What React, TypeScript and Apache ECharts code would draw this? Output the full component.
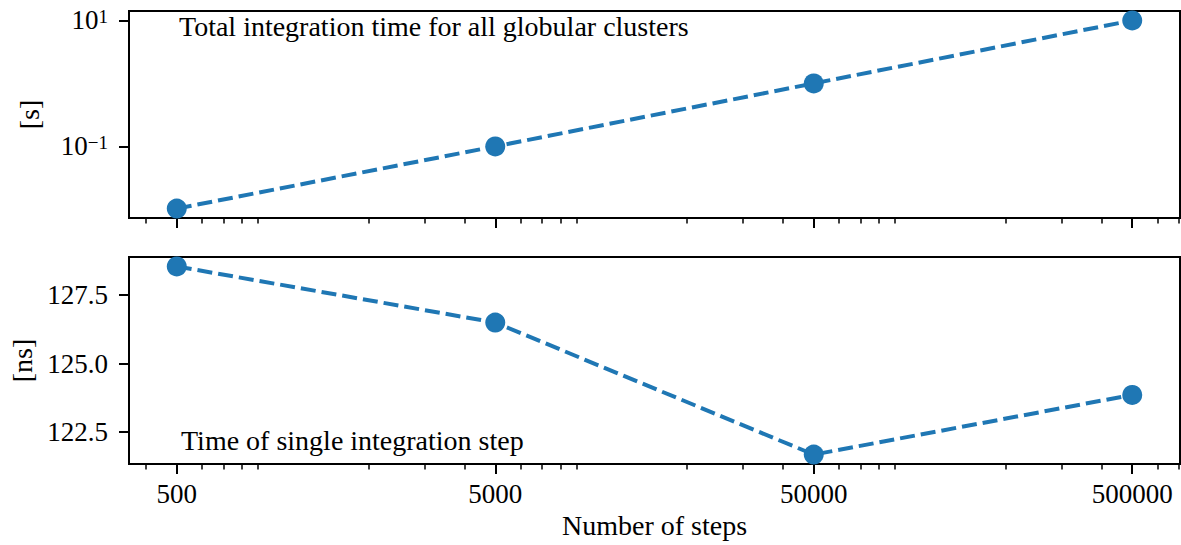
import React, { useEffect, useRef } from 'react';
import * as echarts from 'echarts';

// ---- data ----
const steps = [500, 5000, 50000, 500000];
const xTickLabels = ['500', '5000', '50000', '500000'];
const totalTimeS = [0.0103, 0.1, 1.0, 10.0];
const stepTimeNs = [128.55, 126.5, 121.68, 123.86];
const topYTickExponents = [-1, 1];
const bottomYTicks = [122.5, 125.0, 127.5];
const topText = 'Total integration time for all globular clusters';
const bottomText = 'Time of single integration step';

const FONT = 'Liberation Serif';
const BLUE = '#1f77b4';
const lg = (v: number) => Math.log10(v);

const pad = (lo: number, hi: number) => {
  const r = hi - lo;
  return [lo - 0.05 * r, hi + 0.05 * r];
};

const [xMin, xMax] = pad(lg(Math.min(...steps)), lg(Math.max(...steps)));
const [tyMin, tyMax] = pad(lg(Math.min(...totalTimeS)), lg(Math.max(...totalTimeS)));
const [byMin, byMax] = pad(Math.min(...stepTimeNs), Math.max(...stepTimeNs));

const majorX = steps.map(lg);
const minorX: number[] = [];
for (let k = 2; k <= 6; k++) {
  for (let s = 2; s <= 9; s++) {
    const lv = lg(s * Math.pow(10, k));
    if (lv > xMin && lv < xMax && !majorX.some((m) => Math.abs(m - lv) < 1e-9)) minorX.push(lv);
  }
}

const xLabel = (v: number) => {
  let best = 0;
  majorX.forEach((m, i) => {
    if (Math.abs(m - v) < Math.abs(majorX[best] - v)) best = i;
  });
  return xTickLabels[best];
};

const GRID_LEFT = 129;
const GRID_RIGHT = 1;

export default function App() {
  const ref = useRef<HTMLDivElement>(null);
  useEffect(() => {
    if (!ref.current) return;
    const chart = echarts.init(ref.current, null, { renderer: 'svg' });

    const mkX = (gridIndex: number, minor: boolean, labels: boolean, name?: string) => ({
      type: 'value',
      gridIndex,
      min: xMin,
      max: xMax,
      position: 'bottom',
      axisLine: { show: !minor, onZero: false, lineStyle: { color: '#000', width: 2 } },
      axisTick: {
        show: true,
        customValues: minor ? minorX : majorX,
        length: minor ? 5.5 : 10,
        lineStyle: { color: '#000', width: minor ? 1.5 : 2 },
      },
      axisLabel: {
        show: labels && !minor,
        customValues: majorX,
        formatter: (v: number) => xLabel(v),
        fontFamily: FONT,
        fontSize: 27,
        color: '#000',
        margin: 16,
      },
      splitLine: { show: false },
      name: name,
      nameLocation: 'middle',
      nameGap: 47,
      nameTextStyle: { fontFamily: FONT, fontSize: 28, color: '#000' },
    });

    chart.setOption({
      animation: false,
      backgroundColor: '#fff',
      grid: [
        { left: GRID_LEFT, right: GRID_RIGHT, top: 11, height: 207, show: true, borderColor: '#000', borderWidth: 2, outerBoundsMode: 'none' },
        { left: GRID_LEFT, right: GRID_RIGHT, top: 257, height: 207, show: true, borderColor: '#000', borderWidth: 2, outerBoundsMode: 'none' },
      ],
      xAxis: [
        mkX(0, false, false),
        mkX(0, true, false),
        mkX(1, false, true, 'Number of steps'),
        mkX(1, true, false),
      ],
      yAxis: [
        {
          type: 'value',
          gridIndex: 0,
          min: tyMin,
          max: tyMax,
          axisLine: { show: true, onZero: false, lineStyle: { color: '#000', width: 2 } },
          axisTick: { show: true, customValues: topYTickExponents, length: 10, lineStyle: { color: '#000', width: 2 } },
          axisLabel: {
            customValues: topYTickExponents,
            formatter: (v: number) => `{b|10}{e|${v < 0 ? '−' : ''}${Math.abs(Math.round(v))}}`,
            margin: 21,
            rich: {
              b: { fontFamily: FONT, fontSize: 27, color: '#000' },
              e: { fontFamily: FONT, fontSize: 19, color: '#000', verticalAlign: 'top' },
            },
          },
          splitLine: { show: false },
          name: '[s]',
          nameLocation: 'middle',
          nameGap: 86,
          nameRotate: 90,
          nameTextStyle: { fontFamily: FONT, fontSize: 28, color: '#000' },
        },
        {
          type: 'value',
          gridIndex: 1,
          min: byMin,
          max: byMax,
          axisLine: { show: true, onZero: false, lineStyle: { color: '#000', width: 2 } },
          axisTick: { show: true, customValues: bottomYTicks, length: 10, lineStyle: { color: '#000', width: 2 } },
          axisLabel: {
            customValues: bottomYTicks,
            formatter: (v: number) => v.toFixed(1),
            margin: 21,
            fontFamily: FONT,
            fontSize: 27,
            color: '#000',
          },
          splitLine: { show: false },
          name: '[ns]',
          nameLocation: 'middle',
          nameGap: 92,
          nameRotate: 90,
          nameTextStyle: { fontFamily: FONT, fontSize: 28, color: '#000' },
        },
      ],
      series: [
        {
          type: 'line',
          xAxisIndex: 0,
          yAxisIndex: 0,
          data: steps.map((s, i) => [lg(s), lg(totalTimeS[i])]),
          lineStyle: { color: BLUE, width: 4, type: [15, 6] },
          itemStyle: { color: BLUE },
          symbol: 'circle',
          symbolSize: 20,
          clip: false,
        },
        {
          type: 'line',
          xAxisIndex: 2,
          yAxisIndex: 1,
          data: steps.map((s, i) => [lg(s), stepTimeNs[i]]),
          lineStyle: { color: BLUE, width: 4, type: [15, 6] },
          itemStyle: { color: BLUE },
          symbol: 'circle',
          symbolSize: 20,
          clip: false,
        },
      ],
      graphic: [
        {
          type: 'text',
          x: 179,
          y: 26,
          style: { text: topText, fontFamily: FONT, fontSize: 28, fill: '#000', verticalAlign: 'middle' },
        },
        {
          type: 'text',
          x: 181,
          y: 440,
          style: { text: bottomText, fontFamily: FONT, fontSize: 28, fill: '#000', verticalAlign: 'middle' },
        },
      ],
    });
    return () => chart.dispose();
  }, []);
  return (
    <div
      ref={ref}
      style={{ position: 'fixed', left: 0, top: 0, width: 1181, height: 545, background: '#fff' }}
    />
  );
}
